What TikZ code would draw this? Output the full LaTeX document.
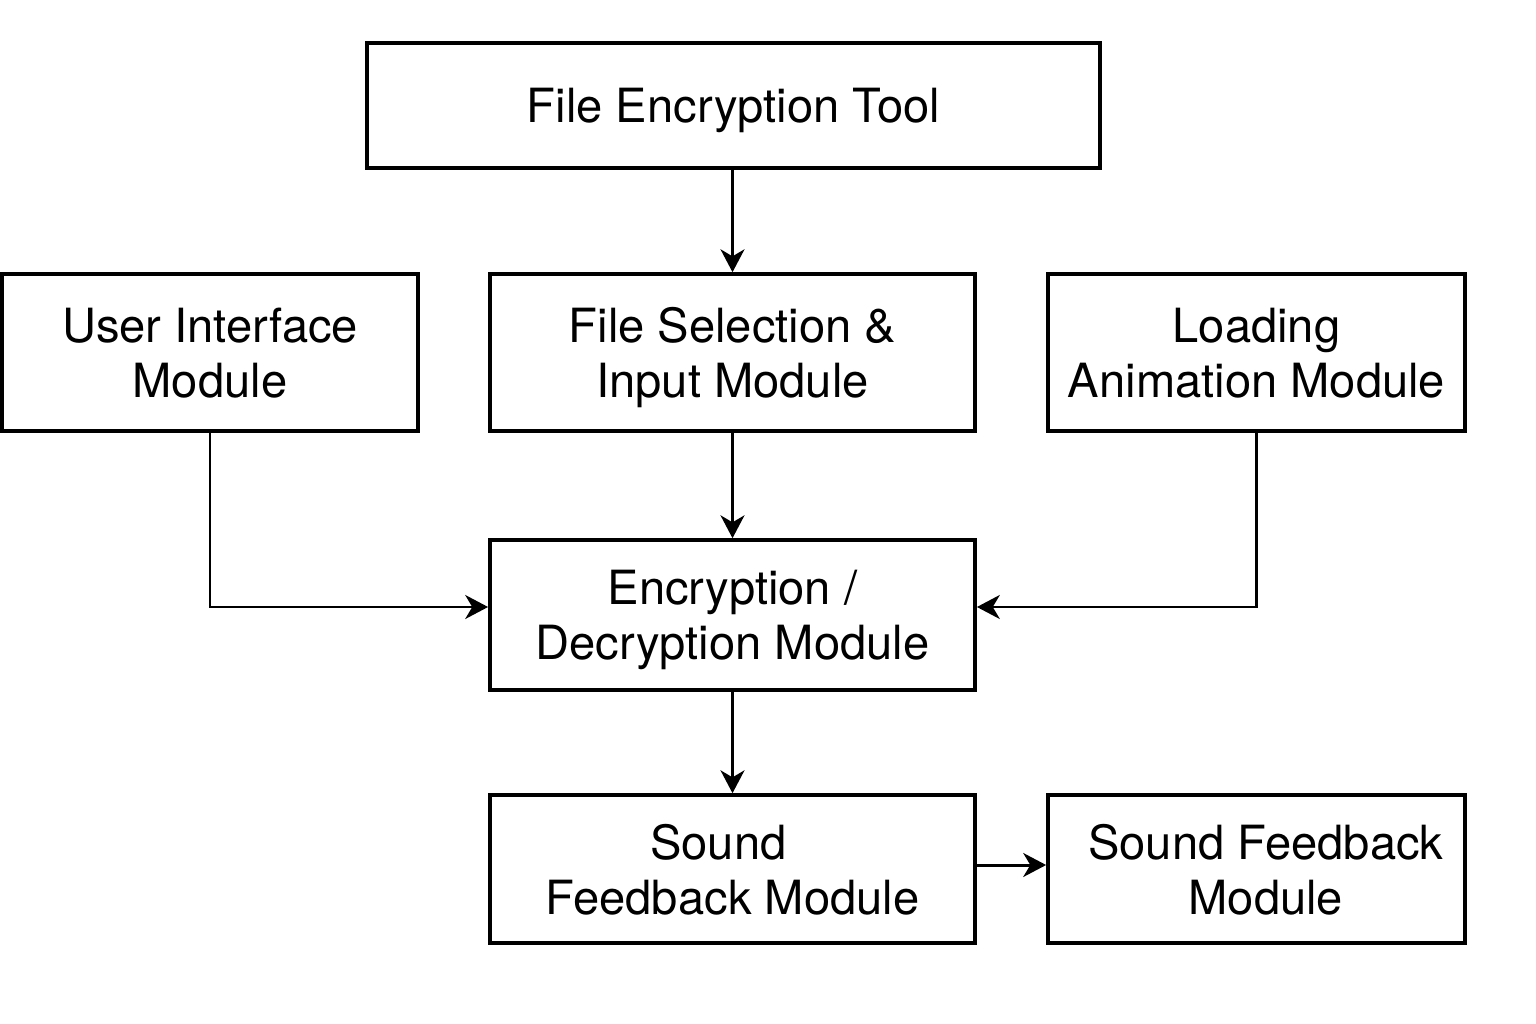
\documentclass[tikz,border=0pt]{standalone}
\usepackage{fontspec}
\setmainfont{TeX Gyre Heros}
\usepackage{tikz}
\usetikzlibrary{arrows.meta,positioning}
\tikzset{
  box/.style={draw=black,line width=1pt,align=center,inner sep=2pt,text depth=0pt,
    font=\fontsize{13.4pt}{15.6pt}\selectfont},
  ar/.style={-{Stealth[length=6.5pt,width=6.8pt,inset=2pt]},line width=0.85pt,black}
}
\begin{document}
\begin{tikzpicture}[x=0.01cm,y=-0.01cm]
\useasboundingbox (0,0) rectangle (1536,1024);
\node[box,minimum width=7.33cm,minimum height=1.25cm] (tool) at (733.5,105.5) {File Encryption Tool};
\node[box,minimum width=4.16cm,minimum height=1.57cm] (ui) at (210,352.5) {User Interface\\Module};
\node[box,minimum width=4.85cm,minimum height=1.57cm] (sel) at (732.5,352.5) {File Selection \&\\Input Module};
\node[box,minimum width=4.17cm,minimum height=1.57cm] (load) at (1256.5,352.5) {Loading\\Animation Module};
\node[box,minimum width=4.85cm,minimum height=1.50cm] (crypt) at (732.5,615) {Encryption /\\Decryption Module};
\node[box,minimum width=4.85cm,minimum height=1.48cm] (snda) at (732.5,869) {Sound\hspace*{0.6em}\\Feedback Module};
\node[box,minimum width=4.17cm,minimum height=1.48cm] (sndb) at (1256.5,869) {\hspace*{0.4em}Sound Feedback\\\hspace*{0.4em}Module};
\draw[ar] (tool.south -| sel.north) -- (sel.north);
\draw[ar] (sel.south) -- (crypt.north);
\draw[ar] (ui.south) |- ([yshift=0.08cm]crypt.west);
\draw[ar] (load.south) |- ([yshift=0.08cm]crypt.east);
\draw[ar] (crypt.south) -- (snda.north);
\draw[ar] ([yshift=0.04cm]snda.east) -- ([yshift=0.04cm]sndb.west);
\end{tikzpicture}
\end{document}
